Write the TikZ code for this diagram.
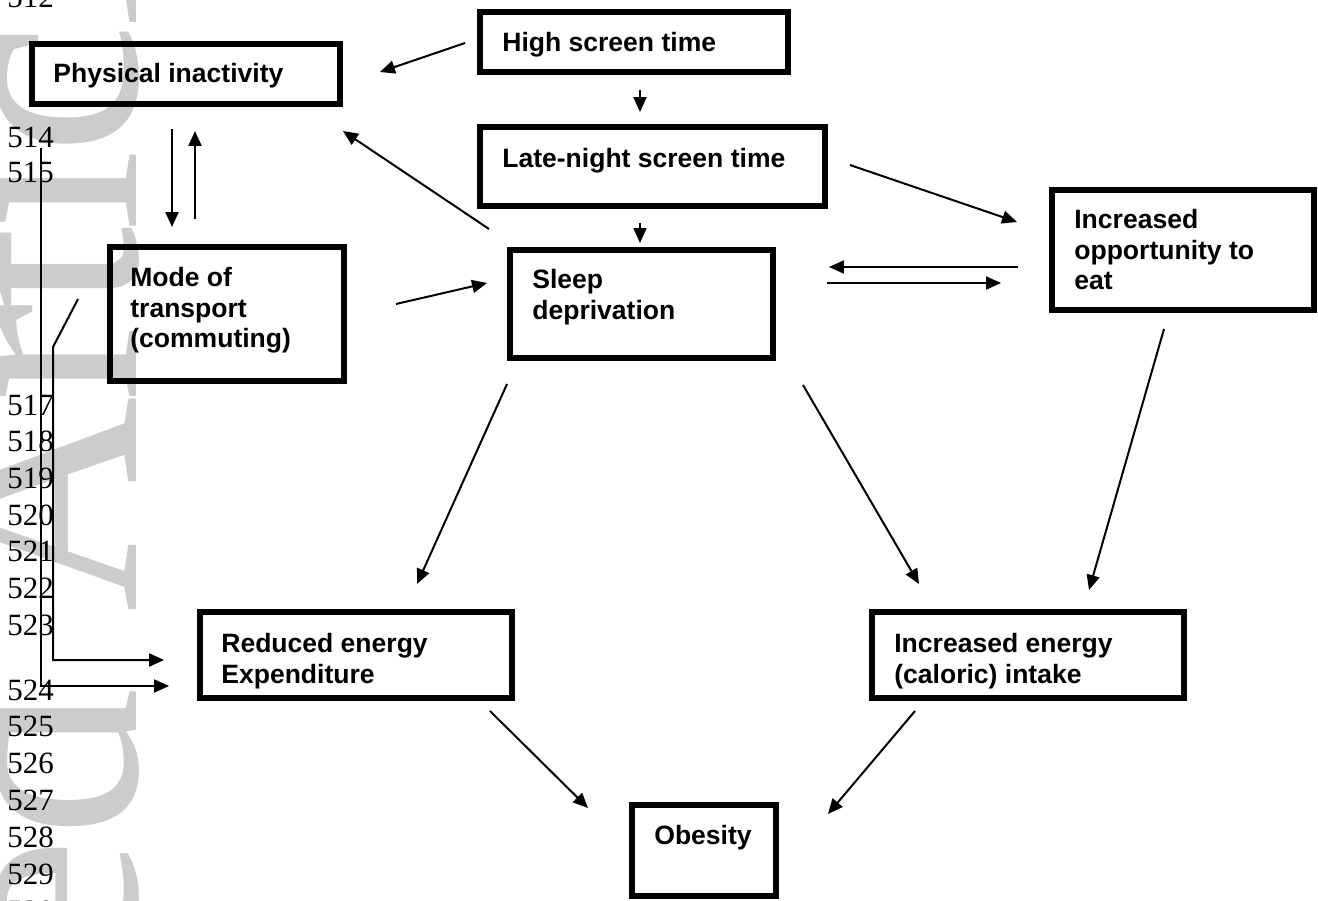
\documentclass[tikz,border=0pt]{standalone}
\usepackage{fontspec}
\setmainfont{Liberation Sans}
\newfontfamily\linefont{Liberation Serif}
\newfontfamily\markfont[LetterSpace=-2]{Liberation Serif}
\usetikzlibrary{arrows.meta, calc}

\begin{document}
\begin{tikzpicture}[x=0.02cm, y=-0.02cm,
    box/.style={draw, line width=0.12cm, inner sep=0pt},
    lbl/.style={anchor=north west, inner sep=0pt, align=left, font=\bfseries\fontsize{15.1}{17.4}\selectfont},
    arr/.style={-{Triangle[length=0.3cm, width=0.26cm]}, line width=0.04cm},
    lineno/.style={anchor=base west, inner sep=0pt, font=\linefont\fontsize{17.6}{17.6}\selectfont},
    wmark/.style={rotate=90, inner sep=0pt, text=gray!40, font=\fontsize{170}{170}\selectfont}]
    \useasboundingbox (0,0) rectangle (1318,900);
    \clip (0,0) rectangle (1318,900);
    \node[wmark, anchor=base west] (wmarka) at (136,613) {\markfont Article};
    \node[wmark, anchor=base east] (wmarkb) at (136,688) {\linefont Accepted};
    \node[lineno] (ln512) at (7,7) {512};
    \node[lineno] (ln514) at (7,147) {514};
    \node[lineno] (ln515) at (7,182) {515};
    \foreach \n [count=\i from 0] in {517,...,523}
    \node[lineno] (ln\n) at (7,{415+36.7*\i}) {\n};
    \foreach \n [count=\i from 0] in {524,...,530}
    \node[lineno] (ln\n) at (7,{700+36.9*\i}) {\n};
    \node[box, minimum width=6.16cm, minimum height=1.2cm] (inact) at (186,74) {};
    \node[box, minimum width=6.16cm, minimum height=1.2cm] (screen) at (634,42) {};
    \node[box, minimum width=6.9cm, minimum height=1.58cm] (latenight) at (652.5,166.5) {};
    \node[box, minimum width=5.26cm, minimum height=2.16cm] (sleep) at (641.5,304) {};
    \node[box, minimum width=4.68cm, minimum height=2.68cm] (transport) at (227,314) {};
    \node[box, minimum width=5.24cm, minimum height=2.4cm] (chance) at (1183,250) {};
    \node[box, minimum width=6.24cm, minimum height=1.72cm] (spend) at (356,655) {};
    \node[box, minimum width=6.24cm, minimum height=1.72cm] (intake) at (1028,655) {};
    \node[box, minimum width=2.88cm, minimum height=1.82cm] (obesity) at (704,850.5) {};
    \node[lbl] (inacttxt) at (53,63) {Physical inactivity};
    \node[lbl] (screentxt) at (502,32) {High screen time};
    \node[lbl] (latenighttxt) at (502,148) {Late-night screen time};
    \node[lbl] (sleeptxt) at (532,269) {Sleep\\deprivation};
    \node[lbl] (transporttxt) at (130,267) {Mode of\\transport\\(commuting)};
    \node[lbl] (chancetxt) at (1074,209) {Increased\\opportunity to\\eat};
    \node[lbl] (spendtxt) at (221,633) {Reduced energy\\Expenditure};
    \node[lbl] (intaketxt) at (894,633) {Increased energy\\(caloric) intake};
    \node[lbl] (obesitytxt) at (654,825) {Obesity};
    \draw[arr] ($(screen.west)+(-12,1)$) -- ($(inact.east)+(37,-2)$);
    \draw[arr] ($(screen.south)+(6,15)$) -- ($(latenight.north)+(-12.5,-12)$);
    \draw[arr] ($(latenight.south)+(-12.5,14)$) -- ($(sleep.north)+(-1.5,-4)$);
    \draw[arr] ($(sleep.north west)+(-18,-18)$) -- ($(inact.south east)+(0,24)$);
    \draw[arr] ($(inact.south)+(-14,22)$) -- ($(transport.north)+(-55,-17)$);
    \draw[arr] ($(transport.north)+(-32,-25)$) -- ($(inact.south)+(9,24)$);
    \draw[arr] ($(transport.east)+(49,-10)$) -- ($(sleep.west)+(-20,-21)$);
    \draw[arr] ($(latenight.east)+(22,-1.5)$) -- ($(chance.west)+(-32,-28)$);
    \draw[arr] ($(chance.west)+(-31,17)$) -- ($(sleep.east)+(53,-37)$);
    \draw[arr] ($(sleep.east)+(51,-21)$) -- ($(chance.west)+(-48,33)$);
    \draw[arr] ($(sleep.south west)+(0,23)$) -- ($(spend.north)+(61,-25)$);
    \draw[arr] ($(sleep.south east)+(27,24)$) -- ($(intake.north)+(-109,-25)$);
    \draw[arr] ($(chance.south)+(-19,16)$) -- ($(intake.north)+(61,-19)$);
    \draw[arr] ($(spend.south east)+(-25,10)$) -- ($(obesity.north west)+(-41,6)$);
    \draw[arr] ($(intake.south west)+(46,10)$) -- ($(obesity.north east)+(49,12)$);
    \draw[arr] ($(transport.west)+(-29,-15)$) -- ($(transport.west)+(-54,33)$) |- ($(spend.west)+(-33,5)$);
    \draw[arr] ($(inact.south west)+(12,41)$) |- ($(spend.west)+(-28,31)$);
\end{tikzpicture}
\end{document}
